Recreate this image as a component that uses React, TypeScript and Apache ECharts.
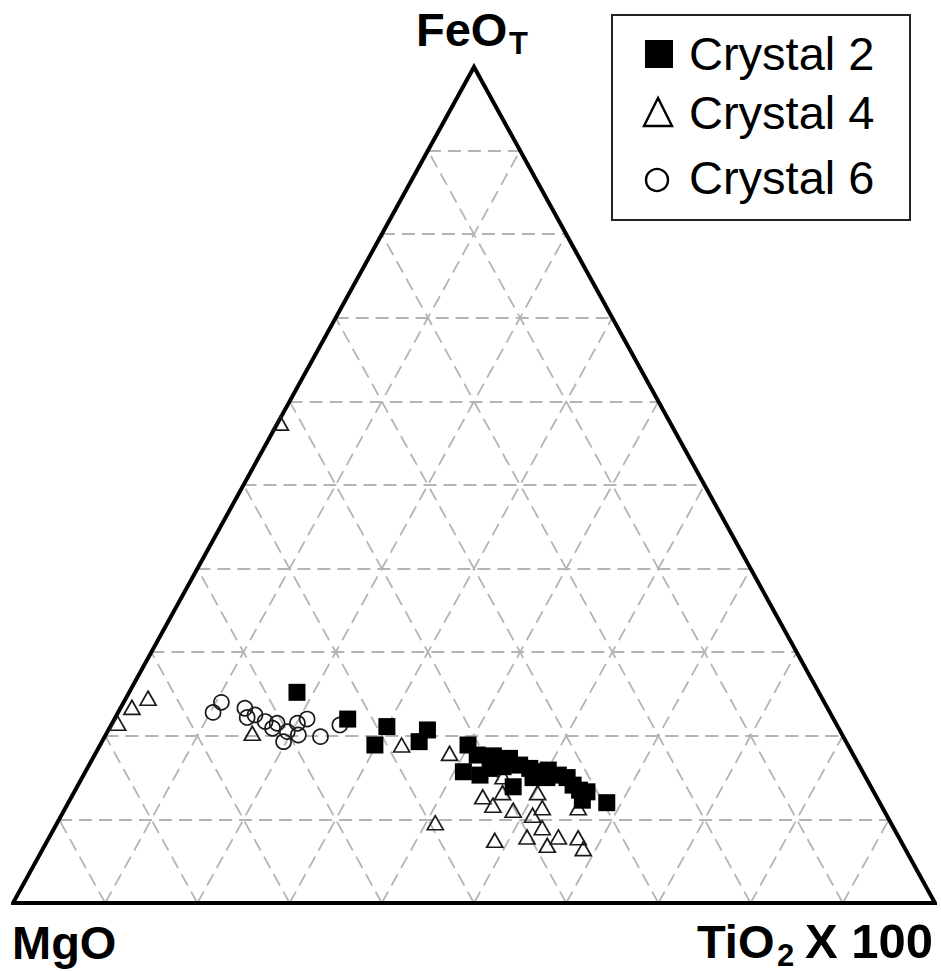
import React, { useEffect, useRef } from "react";
import * as echarts from "echarts";

// Ternary grid ticks (percent)
const gridTicks = [10, 20, 30, 40, 50, 60, 70, 80, 90];

// Crystal 2 (filled squares)
const c2FeO = [25.2, 22.0, 21.1, 18.9, 20.7, 19.3, 18.9, 17.7, 17.6, 17.3, 16.5, 16.1, 15.7, 15.9, 15.3, 15.0, 14.1, 13.5, 13.3, 12.3, 12.0, 15.7, 15.3, 16.1, 13.9, 15.0, 15.0, 16.3];
const c2MgO = [56.6, 52.7, 48.9, 51.3, 44.7, 46.3, 41.2, 40.8, 39.1, 37.5, 36.8, 35.9, 35.0, 34.0, 33.2, 32.4, 32.2, 31.8, 31.1, 32.1, 29.6, 43.3, 41.7, 40.2, 38.8, 36.1, 34.6, 38.7];
const c2TiO2 = [18.2, 25.3, 30.0, 29.8, 34.6, 34.4, 39.9, 41.5, 43.3, 45.2, 46.7, 48.0, 49.3, 50.1, 51.5, 52.6, 53.7, 54.7, 55.6, 55.6, 58.4, 41.0, 43.0, 43.7, 47.3, 48.9, 50.4, 45.0];

// Crystal 4 (open triangles)
const c4FeO = [57.4, 24.5, 23.4, 21.5, 20.3, 18.9, 17.9, 9.6, 12.7, 11.7, 13.2, 15.1, 11.1, 13.2, 11.4, 10.5, 9.0, 7.9, 6.9, 7.9, 11.4, 7.8, 6.5, 7.5];
const c4MgO = [42.3, 73.1, 75.4, 77.9, 63.9, 48.4, 43.7, 49.4, 42.7, 42.1, 40.3, 39.3, 40.2, 36.5, 36.9, 38.4, 38.1, 40.3, 38.6, 36.9, 33.0, 34.8, 34.9, 44.0];
const c4TiO2 = [0.3, 2.4, 1.2, 0.6, 15.8, 32.7, 38.4, 41.0, 44.6, 46.2, 46.5, 45.6, 48.7, 50.3, 51.7, 51.1, 52.9, 51.8, 54.5, 55.2, 55.6, 57.4, 58.6, 48.5];

// Crystal 6 (open circles)
const c6FeO = [22.8, 24.0, 23.3, 22.2, 22.5, 21.7, 21.5, 20.5, 19.3, 21.5, 20.1, 22.0, 19.9, 21.3, 20.9];
const c6MgO = [66.9, 65.4, 63.2, 63.5, 62.5, 61.8, 60.6, 60.0, 61.0, 58.4, 59.0, 57.1, 56.7, 53.9, 61.4];
const c6TiO2 = [10.3, 10.6, 13.5, 14.3, 15.0, 16.5, 17.9, 19.5, 19.7, 20.1, 20.9, 20.9, 23.4, 24.8, 17.7];

const seriesNames = ["Crystal 2", "Crystal 4", "Crystal 6"];

const FONT = "'Liberation Sans', Arial, Helvetica, sans-serif";

// ternary (FeO top, MgO left, TiO2 right) -> cartesian [x, y] in [0,1]
function toXY(feo: number, mgo: number, tio2: number): [number, number] {
  const s = feo + mgo + tio2;
  return [(tio2 + feo / 2) / s, feo / s];
}

function buildPoints(f: number[], m: number[], t: number[]) {
  return f.map((v, i) => toXY(v, m[i], t[i]));
}

export default function App() {
  const ref = useRef<HTMLDivElement>(null);

  useEffect(() => {
    document.body.style.margin = "0";
    const chart = echarts.init(ref.current!, null, { renderer: "svg" });

    const gridLines: { coords: [number, number][] }[] = [];
    gridTicks.forEach((p) => {
      // constant FeO (horizontal)
      gridLines.push({ coords: [toXY(p, 100 - p, 0), toXY(p, 0, 100 - p)] });
      // constant TiO2
      gridLines.push({ coords: [toXY(0, 100 - p, p), toXY(100 - p, 0, p)] });
      // constant MgO
      gridLines.push({ coords: [toXY(0, p, 100 - p), toXY(100 - p, p, 0)] });
    });

    const border = [toXY(0, 100, 0), toXY(0, 0, 100), toXY(100, 0, 0), toXY(0, 100, 0), toXY(0, 0, 100)];

    const option: any = {
      animation: false,
      backgroundColor: "#fff",
      grid: { left: 13, top: 67, width: 922, height: 836 },
      xAxis: { type: "value", min: 0, max: 1, show: false },
      yAxis: { type: "value", min: 0, max: 1, show: false },
      series: [
        {
          type: "lines",
          coordinateSystem: "cartesian2d",
          silent: true,
          clip: false,
          z: 1,
          lineStyle: { color: "#b4b4b4", width: 1.8, type: [13, 7], opacity: 1 },
          data: gridLines,
        },
        {
          type: "line",
          silent: true,
          clip: false,
          z: 2,
          showSymbol: false,
          symbol: "none",
          lineStyle: { color: "#000", width: 4, join: "miter" },
          data: border,
        },
        {
          name: seriesNames[1],
          type: "scatter",
          clip: false,
          z: 3,
          symbol: "triangle",
          symbolSize: [16, 14],
          itemStyle: { color: "rgba(255,255,255,0)", borderColor: "#1a1a1a", borderWidth: 1.7, opacity: 1 },
          data: buildPoints(c4FeO, c4MgO, c4TiO2),
        },
        {
          name: seriesNames[2],
          type: "scatter",
          clip: false,
          z: 4,
          symbol: "circle",
          symbolSize: 15,
          itemStyle: { color: "rgba(255,255,255,0)", borderColor: "#1a1a1a", borderWidth: 1.7, opacity: 1 },
          data: buildPoints(c6FeO, c6MgO, c6TiO2),
        },
        {
          name: seriesNames[0],
          type: "scatter",
          clip: false,
          z: 5,
          symbol: "rect",
          symbolSize: 17,
          itemStyle: { color: "#000", opacity: 1 },
          data: buildPoints(c2FeO, c2MgO, c2TiO2),
        },
      ],
      graphic: [
        // vertex labels
        { type: "text", x: 416, y: 29, style: { text: "FeO", fontSize: 47, fontWeight: "bold", fontFamily: FONT, fill: "#000", align: "left", verticalAlign: "middle" } },
        { type: "text", x: 509, y: 43, style: { text: "T", fontSize: 31, fontWeight: "bold", fontFamily: FONT, fill: "#000", align: "left", verticalAlign: "middle" } },
        { type: "text", x: 12, y: 942, style: { text: "MgO", fontSize: 47, fontWeight: "bold", fontFamily: FONT, fill: "#000", align: "left", verticalAlign: "middle" } },
        { type: "text", x: 697, y: 941, style: { text: "TiO", fontSize: 47, fontWeight: "bold", fontFamily: FONT, fill: "#000", align: "left", verticalAlign: "middle" } },
        { type: "text", x: 777, y: 955, style: { text: "2", fontSize: 31, fontWeight: "bold", fontFamily: FONT, fill: "#000", align: "left", verticalAlign: "middle" } },
        { type: "text", x: 933, y: 941, style: { text: "X 100", fontSize: 49, fontWeight: "bold", fontFamily: FONT, fill: "#000", align: "right", verticalAlign: "middle" } },
        // legend
        { type: "rect", shape: { x: 612, y: 15, width: 298, height: 205 }, style: { fill: "#fff", stroke: "#222", lineWidth: 2 }, z: 10 },
        { type: "rect", shape: { x: 645, y: 40, width: 28, height: 28 }, style: { fill: "#000" }, z: 11 },
        { type: "text", x: 689, y: 53, z: 11, style: { text: seriesNames[0], fontSize: 47, fontFamily: FONT, fill: "#000", align: "left", verticalAlign: "middle" } },
        { type: "polygon", shape: { points: [[658, 98], [644, 126], [672, 126]] }, style: { fill: "none", stroke: "#000", lineWidth: 2.4 }, z: 11 },
        { type: "text", x: 689, y: 112, z: 11, style: { text: seriesNames[1], fontSize: 47, fontFamily: FONT, fill: "#000", align: "left", verticalAlign: "middle" } },
        { type: "circle", shape: { cx: 657, cy: 180, r: 11 }, style: { fill: "none", stroke: "#000", lineWidth: 2.4 }, z: 11 },
        { type: "text", x: 689, y: 177, z: 11, style: { text: seriesNames[2], fontSize: 47, fontFamily: FONT, fill: "#000", align: "left", verticalAlign: "middle" } },
      ],
    };

    chart.setOption(option);
    return () => chart.dispose();
  }, []);

  return <div ref={ref} style={{ width: 941, height: 971 }} />;
}
